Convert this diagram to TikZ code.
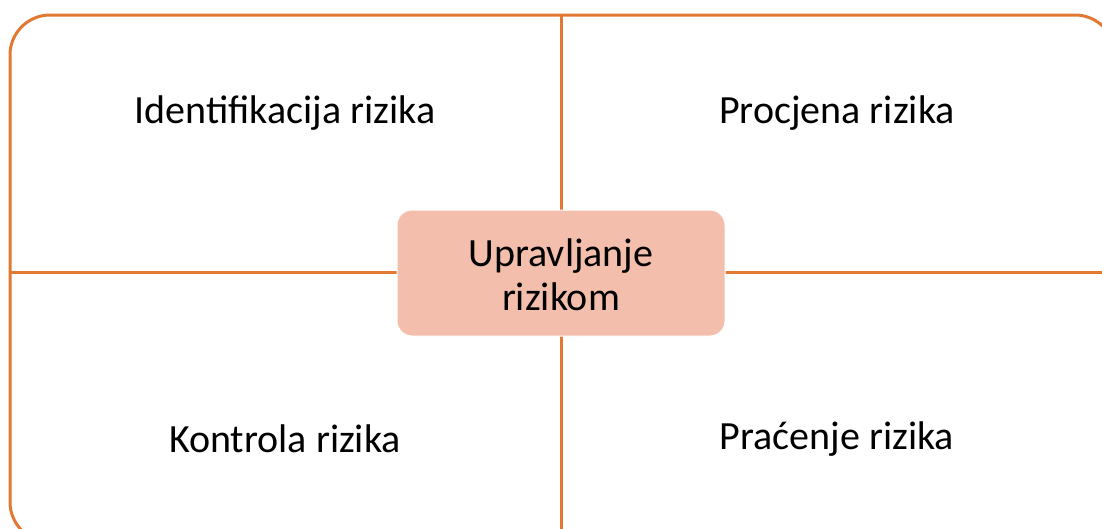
\documentclass[tikz,border=0pt]{standalone}
\usepackage{fontspec}
\setmainfont{Carlito}
\definecolor{lineor}{RGB}{226,121,50}
\definecolor{boxfill}{RGB}{244,190,172}
\tikzset{
  quad/.style={font=\fontsize{40}{48}\selectfont, text=black, inner sep=0pt},
  conn/.style={draw=lineor, line width=3pt},
  centerbox/.style={fill=boxfill, draw=white, line width=1pt, rounded corners=15pt, minimum width=328pt, minimum height=126pt, align=center, font=\fontsize{40}{44}\selectfont, inner sep=0pt}
}
\begin{document}
\begin{tikzpicture}[x=1pt,y=1pt]
\useasboundingbox (0,0) rectangle (1102,-528);
\clip (0,0) rectangle (1102,-528);
\draw[conn, rounded corners=40pt] (10,-15) rectangle (1115,-542);
\coordinate (top) at (561,-15);
\coordinate (bot) at (561,-545);
\coordinate (lft) at (10,-272);
\coordinate (rgt) at (1115,-272);
\draw[conn] (top) -- (561,-215);
\draw[conn] (561,-330) -- (bot);
\draw[conn] (lft) -- (400,-272);
\draw[conn] (720,-272) -- (rgt);
\node[centerbox] (c) at (561,-273) {};
\node[font=\fontsize{40}{44}\selectfont, align=center, inner sep=0pt] (ct) at (561,-275) {Upravljanje\\rizikom};
\node[quad] (q1) at (285,-113) {Identifikacija rizika};
\node[quad] (q2) at (837,-113) {Procjena rizika};
\node[quad] (q3) at (285,-439) {Kontrola rizika};
\node[quad] (q4) at (837,-439) {Praćenje rizika};
\end{tikzpicture}
\end{document}
